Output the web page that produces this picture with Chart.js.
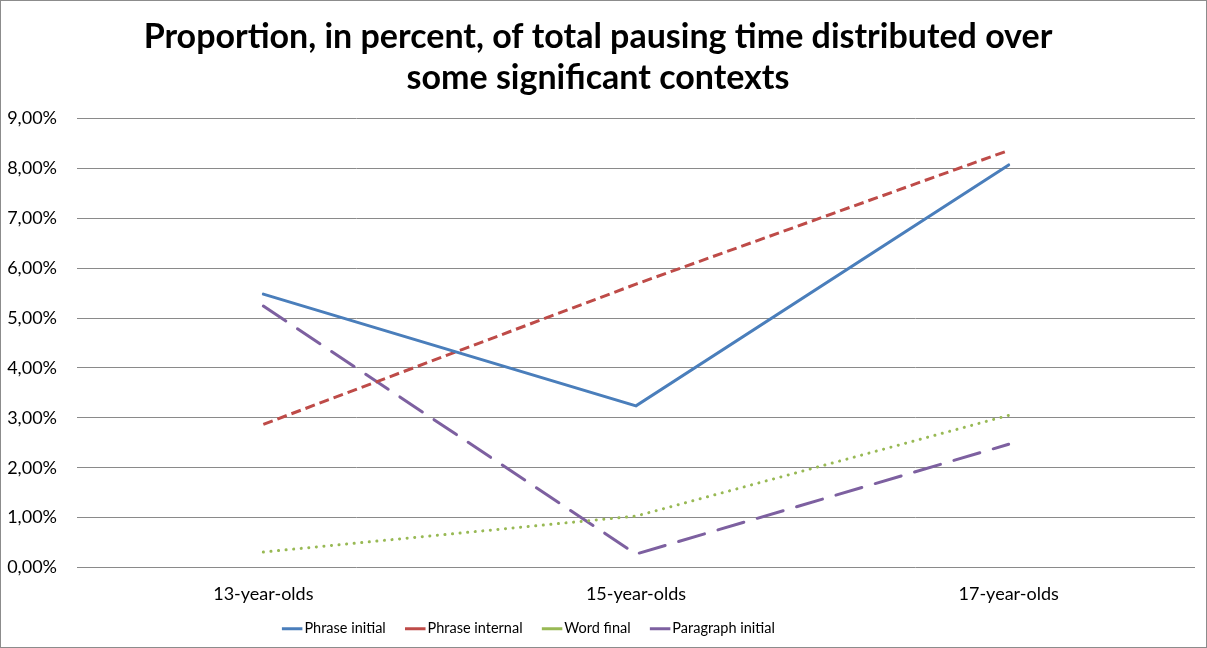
<!DOCTYPE html>
<html>
<head>
<meta charset="utf-8">
<script src="https://cdn.jsdelivr.net/npm/chart.js@4.4.1/dist/chart.umd.min.js"></script>
<style>
  html, body { margin: 0; padding: 0; background: #fff; }
  #wrap { position: relative; width: 1207px; height: 648px; box-sizing: border-box; border: 1px solid #8c8c8c; }
  canvas { display: block; }
</style>
</head>
<body>
<div id="wrap"><canvas id="c" width="1205" height="646"></canvas></div>
<script>
// Age groups on the x axis
const categories = ['13-year-olds', '15-year-olds', '17-year-olds'];

// Share of total pausing time (%) per context
const phraseInitial    = [5.48, 3.24, 8.07];
const phraseInternal   = [2.87, 5.68, 8.36];
const wordFinal        = [0.31, 1.03, 3.05];
const paragraphInitial = [5.24, 0.27, 2.47];

const seriesNames = ['Phrase initial', 'Phrase internal', 'Word final', 'Paragraph initial'];
const yTicks = [0, 1, 2, 3, 4, 5, 6, 7, 8, 9];

const titleLines = ['Proportion, in percent, of total pausing time distributed over', 'some significant contexts'];

const FONT = 'Lato, "Open Sans", sans-serif';
const LEGEND_SHIFT = 134;    // legend row sits left of the canvas centre
const LEGEND_HEIGHT = 41;    // space reserved for the legend row
const LEGEND_RAISE = 9;      // lift the row a little inside that space

function series(label, data, color, dash, cap) {
  return {
    label, data,
    borderColor: color,
    backgroundColor: color,
    borderWidth: 3,
    borderDash: dash,
    borderCapStyle: cap,
    pointRadius: 0,
    pointHoverRadius: 0,
    tension: 0,
    fill: false
  };
}

// Fixed legend height, and a small offset of the legend row
const legendPlacement = {
  id: 'legendPlacement',
  beforeLayout(chart) {
    const lg = chart.legend;
    if (lg && !lg.__sized) {
      const baseFit = lg.fit;
      lg.fit = function () {
        baseFit.call(this);
        this.height = LEGEND_HEIGHT;
      };
      lg.__sized = true;
    }
  },
  afterLayout(chart) {
    const lg = chart.legend;
    if (!lg) return;
    lg.right -= LEGEND_SHIFT;
    lg.top -= LEGEND_RAISE;
    lg.bottom -= LEGEND_RAISE;
  }
};

new Chart(document.getElementById('c'), {
  type: 'line',
  data: {
    labels: categories,
    datasets: [
      series(seriesNames[0], phraseInitial, '#4A7EBB', [], 'round'),
      series(seriesNames[1], phraseInternal, '#BE4B48', [10, 5], 'butt'),
      series(seriesNames[2], wordFinal, '#98B954', [0.1, 7.5], 'round'),
      series(seriesNames[3], paragraphInitial, '#7D60A0', [27, 14], 'round')
    ]
  },
  options: {
    responsive: false,
    animation: false,
    devicePixelRatio: 1,
    layout: { padding: { left: 0, right: 11, top: 0, bottom: 0 } },
    plugins: {
      tooltip: { enabled: false },
      title: {
        display: true,
        text: titleLines,
        color: '#000',
        font: { family: FONT, size: 34, weight: 'bold', lineHeight: 1.206 },
        padding: { top: 15.5, bottom: 20 }
      },
      legend: {
        position: 'bottom',
        labels: {
          color: '#000',
          font: { family: FONT, size: 14.5 },
          usePointStyle: true,
          pointStyle: 'line',
          boxWidth: 10,
          boxHeight: 14.5,
          padding: 24.5
        }
      }
    },
    scales: {
      x: {
        offset: true,
        grid: { display: false, drawTicks: false },
        border: { display: false },
        afterFit: (axis) => { axis.height = 38.5; },
        ticks: { color: '#000', font: { family: FONT, size: 18 }, padding: 16, maxRotation: 0 }
      },
      y: {
        min: 0,
        max: 9,
        afterBuildTicks: (axis) => { axis.ticks = yTicks.map(v => ({ value: v })); },
        afterFit: (axis) => { axis.width = 76; },
        grid: { color: '#8a8a8a', lineWidth: 1, drawTicks: false },
        border: { display: false },
        ticks: {
          color: '#000',
          font: { family: FONT, size: 18 },
          padding: 20,
          callback: (v) => v.toFixed(2).replace('.', ',') + '%'
        }
      }
    }
  },
  plugins: [legendPlacement]
});
</script>
</body>
</html>
